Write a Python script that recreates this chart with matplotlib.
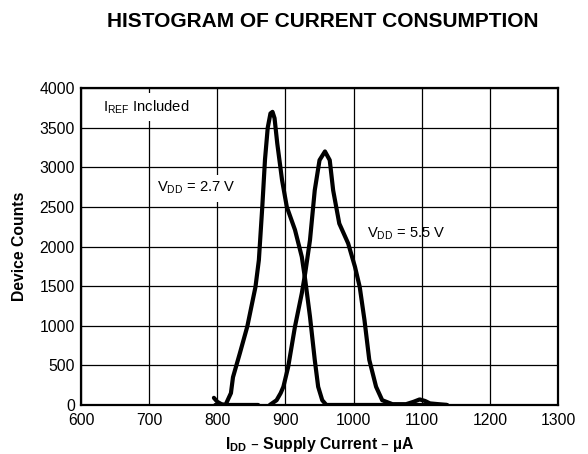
import matplotlib.pyplot as plt

# Histogram of current consumption
plt.rcParams['font.family'] = ['Liberation Sans', 'DejaVu Sans']
nan = float('nan')

# V_DD = 2.7 V curve (supply current in uA, device counts)
i_27 = [795, 800, 806, 812, 820, 823, 833, 844, 856, 861, 866, 870, 874, 878,
        881, 884, 888, 895, 902, 914, 924, 929, 936, 943, 948, 954, 960, 1000,
        1100, 1137]
n_27 = [90, 40, 10, 0, 150, 350, 650, 990, 1490, 1830, 2500, 3100, 3500, 3680,
        3700, 3620, 3300, 2840, 2500, 2210, 1870, 1580, 1115, 570, 230, 60, 0, 0,
        0, 0]

# V_DD = 5.5 V curve (low-end baseline segment, then the peak)
i_55 = [797, 860, nan, 877, 887, 893, 897, 904, 914, 924, 929, 936, 943, 950,
        958, 965, 970, 979, 992, 1002, 1009, 1016, 1023, 1033, 1042, 1057, 1077,
        1088, 1097, 1105, 1112, 1137]
n_55 = [0, 0, nan, 0, 60, 150, 230, 480, 990, 1410, 1665, 2080, 2710, 3090,
        3200, 3090, 2710, 2290, 2040, 1745, 1490, 1070, 570, 230, 60, 10, 10,
        40, 70, 50, 20, 0]

x_ticks = [600, 700, 800, 900, 1000, 1100, 1200, 1300]
y_ticks = [0, 500, 1000, 1500, 2000, 2500, 3000, 3500, 4000]


def main():
    fig = plt.figure(figsize=(5.88, 4.54), dpi=100)
    ax = fig.add_axes([0.1378, 0.108, 0.8112, 0.698])

    for xs, ys in ((i_27, n_27), (i_55, n_55)):
        ax.plot(xs, ys, color='black', linewidth=3, solid_joinstyle='round',
                solid_capstyle='round', zorder=3)

    ax.set_xlim(600, 1300)
    ax.set_ylim(0, 4000)
    ax.set_xticks(x_ticks)
    ax.set_yticks(y_ticks)
    ax.tick_params(length=0, labelsize=11.3)
    ax.tick_params(axis='y', pad=4.5)
    ax.tick_params(axis='x', pad=6)
    ax.grid(True, color='black', linewidth=0.9)
    ax.set_axisbelow(True)
    for side in ax.spines.values():
        side.set_linewidth(1.6)

    box = dict(facecolor='white', edgecolor='none', boxstyle='square,pad=0.35')
    ax.text(632, 3713, r'I$_{\mathregular{REF}}$ Included', fontsize=10.6,
            va='baseline', ha='left', bbox=box, zorder=2.5)
    ax.text(711, 2692, r'V$_{\mathregular{DD}}$ = 2.7 V', fontsize=10.6,
            va='baseline', ha='left', bbox=box, zorder=2.5)
    ax.text(1020, 2116, r'V$_{\mathregular{DD}}$ = 5.5 V', fontsize=10.6,
            va='baseline', ha='left', zorder=2.5)

    ax.set_xlabel(r'I$_{\mathregular{DD}}$ – Supply Current – µA', fontsize=11.3,
                  fontweight='bold', labelpad=5)
    ax.set_ylabel('Device Counts', fontsize=11.3, fontweight='bold', labelpad=9)
    fig.text(0.549, 0.9405, 'HISTOGRAM OF CURRENT CONSUMPTION', fontsize=15,
             fontweight='bold', ha='center', va='baseline')

    fig.savefig('out.png', dpi=100)


if __name__ == "__main__":
    main()
